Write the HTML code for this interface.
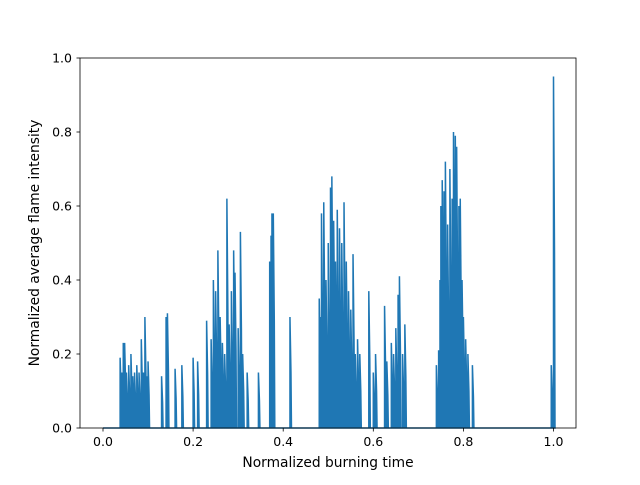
<!DOCTYPE html>
<html><head><meta charset="utf-8"><style>
body{margin:0;background:#fff;}
svg{font-family:"DejaVu Sans","Liberation Sans",sans-serif;}
</style></head><body>
<svg id="chart" width="640" height="480" viewBox="0 0 640 480">
<rect x="0" y="0" width="640" height="480" fill="#fff"/>
<g id="series"></g>
<rect x="80" y="58" width="496" height="370" fill="none" stroke="#000" stroke-width="0.8"/>
<g id="xticks"></g>
<g id="yticks"></g>
<text x="328" y="467" font-size="13.8" text-anchor="middle">Normalized burning time</text>
<text x="0" y="0" font-size="13.8" text-anchor="middle" transform="translate(39,243) rotate(-90)">Normalized average flame intensity</text>
</svg>
<script>
const spikeTimes=[0.038,0.042,0.045,0.048,0.052,0.057,0.062,0.066,0.07,0.075,0.08,0.085,0.09,0.093,0.097,0.1,
0.13,0.14,0.143,0.16,0.175,0.2,0.21,0.23,0.24,0.245,0.25,0.255,0.26,0.265,0.27,0.275,0.28,0.285,0.29,0.293,0.3,0.305,0.31,0.32,0.345,0.37,0.373,0.375,0.378,0.415,
0.48,0.483,0.485,0.49,0.495,0.5,0.505,0.508,0.512,0.516,0.52,0.525,0.53,0.535,0.54,0.545,0.55,0.555,0.56,0.565,0.57,0.59,0.6,0.605,0.625,0.63,0.64,0.645,0.65,0.655,0.658,0.665,0.67,
0.74,0.745,0.748,0.75,0.753,0.757,0.76,0.765,0.77,0.775,0.778,0.782,0.785,0.79,0.793,0.797,0.8,0.805,0.81,0.82,0.995,1.0];
const spikeValues=[0.19,0.15,0.23,0.23,0.15,0.17,0.2,0.14,0.15,0.17,0.15,0.24,0.15,0.3,0.14,0.18,
0.14,0.3,0.31,0.16,0.17,0.19,0.18,0.29,0.24,0.4,0.37,0.48,0.3,0.23,0.2,0.62,0.28,0.37,0.48,0.42,0.27,0.53,0.2,0.15,0.15,0.45,0.52,0.58,0.58,0.3,
0.35,0.3,0.58,0.61,0.4,0.5,0.65,0.68,0.56,0.45,0.59,0.54,0.5,0.61,0.45,0.37,0.32,0.47,0.2,0.24,0.2,0.37,0.15,0.2,0.33,0.18,0.23,0.2,0.27,0.36,0.41,0.2,0.28,
0.17,0.21,0.4,0.6,0.67,0.64,0.72,0.55,0.7,0.62,0.8,0.79,0.76,0.6,0.62,0.4,0.3,0.24,0.2,0.17,0.17,0.95];
const xTickLabels=["0.0","0.2","0.4","0.6","0.8","1.0"];
const xTickValues=[0,0.2,0.4,0.6,0.8,1.0];
const yTickLabels=["0.0","0.2","0.4","0.6","0.8","1.0"];
const yTickValues=[0,0.2,0.4,0.6,0.8,1.0];
const NS="http://www.w3.org/2000/svg";
function xs(v){return 103+v*450.5;}
function ys(v){return 428-v*370;}
const g=document.getElementById('series');
let d="M"+xs(0)+","+ys(0);
for(let i=0;i<spikeTimes.length;i++){
  const x=xs(spikeTimes[i]);
  d+=" L"+x+","+ys(0)+" L"+x+","+ys(spikeValues[i])+" L"+(x+1)+","+ys(spikeValues[i]*0.5)+" L"+(x+1.5)+","+ys(0);
}
d+=" L"+xs(1)+","+ys(0);
const p=document.createElementNS(NS,'path');
p.setAttribute('d',d);p.setAttribute('fill','none');p.setAttribute('stroke','#1f77b4');p.setAttribute('stroke-width','1.5');


g.appendChild(p);
const xt=document.getElementById('xticks');
xTickValues.forEach((v,i)=>{
  const x=xs(v);
  const l=document.createElementNS(NS,'line');
  l.setAttribute('x1',x);l.setAttribute('x2',x);l.setAttribute('y1',428);l.setAttribute('y2',431.5);l.setAttribute('stroke','#000');l.setAttribute('stroke-width','0.8');
  
  
  xt.appendChild(l);
  const t=document.createElementNS(NS,'text');
  t.setAttribute('x',x);t.setAttribute('y',446);t.setAttribute('font-size','12.5');t.setAttribute('text-anchor','middle');
  t.textContent=xTickLabels[i];
  
  
  xt.appendChild(t);
});
const yt=document.getElementById('yticks');
yTickValues.forEach((v,i)=>{
  const y=ys(v);
  const l=document.createElementNS(NS,'line');
  l.setAttribute('x1',76.5);l.setAttribute('x2',80);l.setAttribute('y1',y);l.setAttribute('y2',y);l.setAttribute('stroke','#000');l.setAttribute('stroke-width','0.8');
  
  
  yt.appendChild(l);
  const t=document.createElementNS(NS,'text');
  t.setAttribute('x',72);t.setAttribute('y',y+4.5);t.setAttribute('font-size','12.5');t.setAttribute('text-anchor','end');
  t.textContent=yTickLabels[i];
  
  
  yt.appendChild(t);
});
</script>
</body></html>
